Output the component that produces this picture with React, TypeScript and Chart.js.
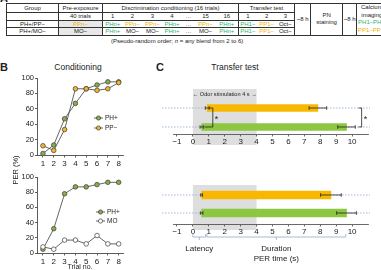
import React, { useEffect, useRef } from 'react';
import { Chart, registerables } from 'chart.js';
Chart.register(...registerables);

const FONT = '"Liberation Sans", Arial, Helvetica, sans-serif';
const ORANGE = '#F9B800';
const GREEN = '#8DC641';
const PT_GREEN = '#86AE45';
const PT_ORANGE = '#F2B52A';
const T_GREEN = '#2DB56E';
const T_ORANGE = '#F2B000';
const DARK = '#333333';

// ---- Panel A table content ----
const discTrials = ['1', '2', '3', '4', '…', '15', '16'];
const transferTrials = ['1', '2', '3'];
const rowPPgroup = 'PH+/PP−';
const rowPPpre = 'PPn−';
const rowPPdisc = ['PHn+', 'PPn−', 'PPn−', 'PHn+', '…', 'PPn−', 'PHn+'];
const rowPPtransfer = ['PH1−', 'PP1−', 'Oct−'];
const rowMOgroup = 'PH+/MO−';
const rowMOpre = 'MO−';
const rowMOdisc = ['PHn+', 'MO−', 'MO−', 'PHn+', '…', 'MO−', 'PHn+'];
const rowMOtransfer = ['PH1−', 'PP1−', 'Oct−'];

// ---- Panel B data (PER %) ----
const trials = [1, 2, 3, 4, 5, 6, 7, 8];
const perPHvsPP = [2, 13, 47, 67, 86, 91, 95, 95];
const perPP = [12, 6, 33, 86, 86, 84, 86, 94];
const perPHvsMO = [5, 32, 78, 87, 87, 90, 93, 93];
const perMO = [8, 5, 17, 17, 12, 23, 12, 12];
const perTicks = [0, 20, 40, 60, 80, 100];

// ---- Panel C data (s) ----
const odors = ['PP1−', 'PH1−'];
const topLatency = [0.9, 0.55];
const topLatencyErr = [0.12, 0.1];
const topEnd = [7.85, 9.65];
const topEndErr = [0.55, 0.55];
const botLatency = [0.55, 0.55];
const botLatencyErr = [0.06, 0.08];
const botEnd = [8.67, 9.65];
const botEndErr = [0.65, 0.62];
const timeTicks = [-1, 0, 1, 2, 3, 4, 5, 6, 7, 8, 9, 10];
const odorWindow = [0, 4];

function tColor(t: string) {
  if (t.startsWith('PH')) return T_GREEN;
  if (t.startsWith('PP')) return T_ORANGE;
  return '#222';
}

function ChartCanvas({ left, top, width, height, make }: any) {
  const ref = useRef<HTMLCanvasElement>(null);
  useEffect(() => {
    const chart = new Chart(ref.current as HTMLCanvasElement, make());
    return () => chart.destroy();
  }, []);
  return (
    <canvas
      ref={ref}
      width={width}
      height={height}
      style={{ position: 'absolute', left, top, width, height }}
    />
  );
}

const legendPlugin = (items: any[]) => ({
  id: 'inlineLegend',
  afterDraw(chart: any) {
    const ctx = chart.ctx;
    items.forEach((it) => {
      ctx.save();
      ctx.strokeStyle = '#555';
      ctx.lineWidth = 0.9;
      ctx.beginPath();
      ctx.moveTo(it.x, it.y);
      ctx.lineTo(it.x + 9, it.y);
      ctx.stroke();
      ctx.beginPath();
      ctx.arc(it.x + 4.5, it.y, 2.1, 0, Math.PI * 2);
      ctx.fillStyle = it.fill;
      ctx.fill();
      ctx.strokeStyle = '#3a3a3a';
      ctx.lineWidth = 0.7;
      ctx.stroke();
      ctx.fillStyle = '#222';
      ctx.font = `6.5px ${FONT}`;
      ctx.textBaseline = 'middle';
      ctx.fillText(it.label, it.x + 11, it.y + 0.5);
      ctx.restore();
    });
  },
});

function lineConfig(series: any[], padTop: number, padBottom: number, legendItems: any[]) {
  return {
    type: 'line',
    data: {
      datasets: series.map((s) => ({
        label: s.label,
        data: trials.map((t, i) => ({ x: t, y: s.values[i] })),
        borderColor: '#555',
        borderWidth: 0.9,
        pointBackgroundColor: s.fill,
        pointBorderColor: '#3a3a3a',
        pointBorderWidth: 0.7,
        pointRadius: 2.3,
        tension: 0,
      })),
    },
    options: {
      animation: false,
      responsive: false,
      events: [],
      layout: { padding: { left: 0, right: 12, top: padTop, bottom: padBottom } },
      plugins: { legend: { display: false }, tooltip: { enabled: false } },
      scales: {
        x: {
          type: 'linear',
          min: 0.45,
          max: 8.4,
          afterFit: (s: any) => { s.height = 14; },
          afterBuildTicks: (s: any) => { s.ticks = trials.map((v) => ({ value: v })); },
          border: { color: DARK, width: 0.8 },
          grid: { drawOnChartArea: false, drawTicks: true, tickLength: 2.5, color: DARK, lineWidth: 0.8 },
          ticks: { font: { size: 8, family: FONT }, color: '#222', padding: 1, maxRotation: 0, autoSkip: false },
        },
        y: {
          min: 0,
          max: 100,
          afterFit: (s: any) => { s.width = 37; },
          afterBuildTicks: (s: any) => { s.ticks = perTicks.map((v) => ({ value: v })); },
          border: { color: DARK, width: 0.8 },
          grid: { drawOnChartArea: false, drawTicks: true, tickLength: 2, color: DARK, lineWidth: 0.8 },
          ticks: { font: { size: 7.5, family: FONT }, color: '#222', padding: 1 },
        },
      },
    },
    plugins: [legendPlugin(legendItems)],
  };
}

function drawErr(ctx: any, x0: number, x1: number, y: number) {
  ctx.beginPath();
  ctx.moveTo(x0, y);
  ctx.lineTo(x1, y);
  ctx.moveTo(x0, y - 1.8);
  ctx.lineTo(x0, y + 1.8);
  ctx.moveTo(x1, y - 1.8);
  ctx.lineTo(x1, y + 1.8);
  ctx.stroke();
}

function transferPlugin(d: any) {
  return {
    id: 'transferDeco',
    beforeDraw(chart: any) {
      const { ctx, chartArea, scales } = chart;
      const x = scales.x;
      const x0 = x.getPixelForValue(odorWindow[0]);
      const x1 = x.getPixelForValue(odorWindow[1]);
      ctx.save();
      ctx.fillStyle = '#DEDEDE';
      ctx.fillRect(x0, chartArea.top, x1 - x0, chartArea.bottom - chartArea.top + d.greyExtra);
      ctx.restore();
    },
    beforeDatasetsDraw(chart: any) {
      const { ctx, chartArea, scales } = chart;
      ctx.save();
      ctx.strokeStyle = '#8FA9CC';
      ctx.lineWidth = 0.8;
      ctx.setLineDash([1.5, 1.5]);
      odors.forEach((_, i) => {
        const y = scales.y.getPixelForValue(i);
        ctx.beginPath();
        ctx.moveTo(chartArea.left - 11, y);
        ctx.lineTo(chartArea.right + 2, y);
        ctx.stroke();
      });
      ctx.restore();
      if (d.odorLabel) {
        const x0 = scales.x.getPixelForValue(odorWindow[0]);
        const x1 = scales.x.getPixelForValue(odorWindow[1]);
        ctx.save();
        ctx.fillStyle = '#222';
        ctx.font = `5.6px ${FONT}`;
        ctx.textAlign = 'center';
        ctx.textBaseline = 'middle';
        ctx.fillText('\u2190 Odor stimulation 4 s \u2192', (x0 + x1) / 2, chartArea.top + 5);
        ctx.restore();
      }
    },
    afterDatasetsDraw(chart: any) {
      const { ctx, chartArea, scales } = chart;
      const x = scales.x;
      const y = scales.y;
      ctx.save();
      ctx.strokeStyle = '#222';
      ctx.lineWidth = 0.8;
      odors.forEach((_, i) => {
        const py = y.getPixelForValue(i);
        drawErr(ctx, x.getPixelForValue(d.end[i] - d.endErr[i]), x.getPixelForValue(d.end[i] + d.endErr[i]), py);
        drawErr(ctx, x.getPixelForValue(d.lat[i] - d.latErr[i]), x.getPixelForValue(d.lat[i] + d.latErr[i]), py);
      });
      if (d.sig) {
        const yA = y.getPixelForValue(0);
        const yB = y.getPixelForValue(1);
        const lx = x.getPixelForValue(1.25);
        ctx.beginPath();
        ctx.moveTo(x.getPixelForValue(0.98), yA);
        ctx.lineTo(lx, yA);
        ctx.lineTo(lx, yB);
        ctx.lineTo(x.getPixelForValue(0.72), yB);
        ctx.stroke();
        const rx = x.getPixelForValue(10.6);
        ctx.beginPath();
        ctx.moveTo(x.getPixelForValue(10.4), yA);
        ctx.lineTo(rx, yA);
        ctx.lineTo(rx, yB);
        ctx.lineTo(x.getPixelForValue(10.4), yB);
        ctx.stroke();
        ctx.fillStyle = '#222';
        ctx.font = `9px ${FONT}`;
        ctx.textBaseline = 'middle';
        ctx.textAlign = 'left';
        ctx.fillText('*', lx + 2, (yA + yB) / 2 + 2);
        ctx.fillText('*', rx + 2, (yA + yB) / 2 + 2);
      }
      if (d.braces) {
        const by = chartArea.bottom + 13;
        ctx.strokeStyle = '#8FA9CC';
        ctx.lineWidth = 0.8;
        const brace = (v0: number, v1: number) => {
          const a = x.getPixelForValue(v0);
          const b = x.getPixelForValue(v1);
          const m = (a + b) / 2;
          ctx.beginPath();
          ctx.moveTo(a, by - 3);
          ctx.lineTo(a, by);
          ctx.lineTo(b, by);
          ctx.lineTo(b, by - 3);
          ctx.moveTo(m, by);
          ctx.lineTo(m, by + 3);
          ctx.stroke();
          return m;
        };
        const m1 = brace(0, 0.8);
        const m2 = brace(0.88, 9.6);
        ctx.fillStyle = '#222';
        ctx.font = `8px ${FONT}`;
        ctx.textAlign = 'center';
        ctx.textBaseline = 'middle';
        ctx.fillText('Latency', m1, by + 12);
        ctx.fillText('Duration', m2, by + 12);
        ctx.fillText('PER time (s)', m2, by + 22);
      }
      ctx.restore();
    },
  };
}

function barConfig(d: any) {
  return {
    type: 'bar',
    data: {
      datasets: [
        {
          data: odors.map((_, i) => ({ x: [d.lat[i], d.end[i]], y: i })),
          backgroundColor: [ORANGE, GREEN],
          borderWidth: 0,
          barThickness: d.thick,
        },
      ],
    },
    options: {
      indexAxis: 'y',
      animation: false,
      responsive: false,
      events: [],
      layout: { padding: { left: 23, right: 13, top: d.padTop, bottom: d.padBottom } },
      plugins: { legend: { display: false }, tooltip: { enabled: false } },
      scales: {
        x: {
          type: 'linear',
          min: -1.25,
          max: 11,
          offset: false,
          afterFit: (s: any) => { s.height = 12; },
          afterBuildTicks: (s: any) => { s.ticks = timeTicks.map((v) => ({ value: v })); },
          border: { color: '#444', width: 0.8 },
          grid: { drawOnChartArea: false, drawTicks: true, tickLength: 2.5, color: '#444', lineWidth: 0.8 },
          ticks: {
            font: { size: 8, family: FONT },
            color: '#222',
            padding: 0,
            maxRotation: 0,
            autoSkip: false,
            callback: (v: any) => String(v).replace('-', '\u2212'),
          },
        },
        y: { type: 'linear', min: d.yMin, max: d.yMax, reverse: true, offset: false, display: false },
      },
    },
    plugins: [transferPlugin(d)],
  };
}

const cell = (extra: any = {}) => ({
  padding: 0,
  textAlign: 'center' as const,
  verticalAlign: 'middle' as const,
  whiteSpace: 'nowrap' as const,
  overflow: 'hidden',
  borderTop: '0.8px solid #333',
  borderBottom: '0.8px solid #333',
  borderLeft: 'none',
  borderRight: 'none',
  ...extra,
});
const L = { borderLeft: '0.8px solid #333' };
const GREY = { background: '#E8E8E8' };

function TableA() {
  const colW = [52, 44, 20, 20, 20, 19, 14, 20, 23, 18, 20, 18, 16, 32, 14, 30];
  const bodyRow = (group: string, pre: string, disc: string[], tr: string[]) => (
    <tr style={{ height: 7.5 }}>
      <td style={cell(L)}>{group}</td>
      <td style={cell({ ...L, ...GREY, color: tColor(pre) })}>{pre}</td>
      {disc.map((t, i) => (
        <td key={'d' + i} style={cell({ ...(i === 0 ? L : {}), color: tColor(t) })}>{t}</td>
      ))}
      {tr.map((t, i) => (
        <td key={'t' + i} style={cell({ ...(i === 0 ? L : {}), color: tColor(t) })}>{t}</td>
      ))}
    </tr>
  );
  return (
    <table
      style={{
        position: 'absolute',
        left: 6,
        top: 3,
        width: 380,
        borderCollapse: 'collapse',
        tableLayout: 'fixed',
        fontSize: 6,
        lineHeight: '6.5px',
        fontFamily: FONT,
        color: '#222',
      }}
    >
      <colgroup>
        {colW.map((w, i) => (
          <col key={i} style={{ width: w }} />
        ))}
      </colgroup>
      <tbody>
        <tr style={{ height: 9 }}>
          <td style={cell(L)}>Group</td>
          <td style={cell(L)}>Pre-exposure</td>
          <td colSpan={7} style={cell(L)}>Discrimination conditioning (16 trials)</td>
          <td colSpan={3} style={cell(L)}>Transfer test</td>
          <td rowSpan={4} style={cell(L)}>~8 h</td>
          <td rowSpan={4} style={cell({ ...L, lineHeight: '7px' })}>PN<br />staining</td>
          <td rowSpan={4} style={cell(L)}>~8 h</td>
          <td rowSpan={4} style={cell({ ...L, lineHeight: '7.5px', textAlign: 'left', overflow: 'visible' })}>
            <div style={{ textAlign: 'center' }}>Calcium<br />imaging</div>
            <div style={{ color: T_GREEN, paddingLeft: 1 }}>PH1–PH</div>
            <div style={{ color: T_ORANGE, paddingLeft: 1 }}>PP1–PP</div>
          </td>
        </tr>
        <tr style={{ height: 7.5 }}>
          <td style={cell(L)}></td>
          <td style={cell(L)}>40 trials</td>
          {discTrials.map((t, i) => (
            <td key={'h' + i} style={cell(i === 0 ? L : {})}>{t}</td>
          ))}
          {transferTrials.map((t, i) => (
            <td key={'ht' + i} style={cell(i === 0 ? L : {})}>{t}</td>
          ))}
        </tr>
        {bodyRow(rowPPgroup, rowPPpre, rowPPdisc, rowPPtransfer)}
        {bodyRow(rowMOgroup, rowMOpre, rowMOdisc, rowMOtransfer)}
      </tbody>
    </table>
  );
}

const abs = (extra: any) => ({ position: 'absolute' as const, fontFamily: FONT, color: '#222', whiteSpace: 'nowrap' as const, ...extra });

export default function App() {
  return (
    <div style={{ position: 'fixed', left: 0, top: 0, width: 381, height: 270, overflow: 'hidden', background: '#fff' }}>
      <div style={abs({ left: 0, top: -8, fontSize: 11, fontWeight: 'bold' })}>A</div>
      <TableA />
      <div style={abs({ left: 111, top: 37, fontSize: 6, lineHeight: '8px' })}>
        (Pseudo-random order; <i>n</i> = any blend from 2 to 6)
      </div>

      <div style={abs({ left: 0, top: 61, fontSize: 11, fontWeight: 'bold', lineHeight: '13px' })}>B</div>
      <div style={abs({ left: 78, top: 62, fontSize: 8.5, lineHeight: '10px', transform: 'translateX(-50%)' })}>Conditioning</div>
      <div style={abs({ left: 156, top: 61, fontSize: 11, fontWeight: 'bold', lineHeight: '13px' })}>C</div>
      <div style={abs({ left: 235, top: 62, fontSize: 8.5, lineHeight: '10px', transform: 'translateX(-50%)' })}>Transfer test</div>

      <ChartCanvas
        left={0}
        top={70}
        width={135}
        height={100}
        make={() =>
          lineConfig(
            [
              { label: 'PP−', values: perPP, fill: PT_ORANGE },
              { label: 'PH+', values: perPHvsPP, fill: PT_GREEN },
            ],
            8,
            1,
            [
              { x: 94, y: 48, label: 'PH+', fill: PT_GREEN },
              { x: 94, y: 58, label: 'PP−', fill: PT_ORANGE },
            ]
          )
        }
      />
      <ChartCanvas
        left={0}
        top={168}
        width={135}
        height={102}
        make={() =>
          lineConfig(
            [
              { label: 'MO', values: perMO, fill: '#ffffff' },
              { label: 'PH+', values: perPHvsMO, fill: PT_GREEN },
            ],
            9,
            3,
            [
              { x: 96, y: 44, label: 'PH+', fill: PT_GREEN },
              { x: 96, y: 53, label: 'MO', fill: '#ffffff' },
            ]
          )
        }
      />
      <div
        style={abs({
          left: 15,
          top: 170,
          fontSize: 7.5,
          lineHeight: '9px',
          transform: 'translate(-50%, -50%) rotate(-90deg)',
        })}
      >
        PER (%)
      </div>
      <div style={abs({ left: 80, top: 262, fontSize: 7, lineHeight: '9px', transform: 'translateX(-50%)' })}>Trial no.</div>

      <ChartCanvas
        left={150}
        top={80}
        width={231}
        height={70}
        make={() =>
          barConfig({
            lat: topLatency,
            latErr: topLatencyErr,
            end: topEnd,
            endErr: topEndErr,
            yMin: -1,
            yMax: 1.37,
            padTop: 9,
            padBottom: 4,
            thick: 7,
            greyExtra: 11,
            odorLabel: true,
            sig: true,
            braces: false,
          })
        }
      />
      <ChartCanvas
        left={150}
        top={170}
        width={231}
        height={96}
        make={() =>
          barConfig({
            lat: botLatency,
            latErr: botLatencyErr,
            end: botEnd,
            endErr: botEndErr,
            yMin: -0.554,
            yMax: 1.61,
            padTop: 15,
            padBottom: 30,
            thick: 8,
            greyExtra: 6,
            odorLabel: false,
            sig: false,
            braces: true,
          })
        }
      />
    </div>
  );
}
